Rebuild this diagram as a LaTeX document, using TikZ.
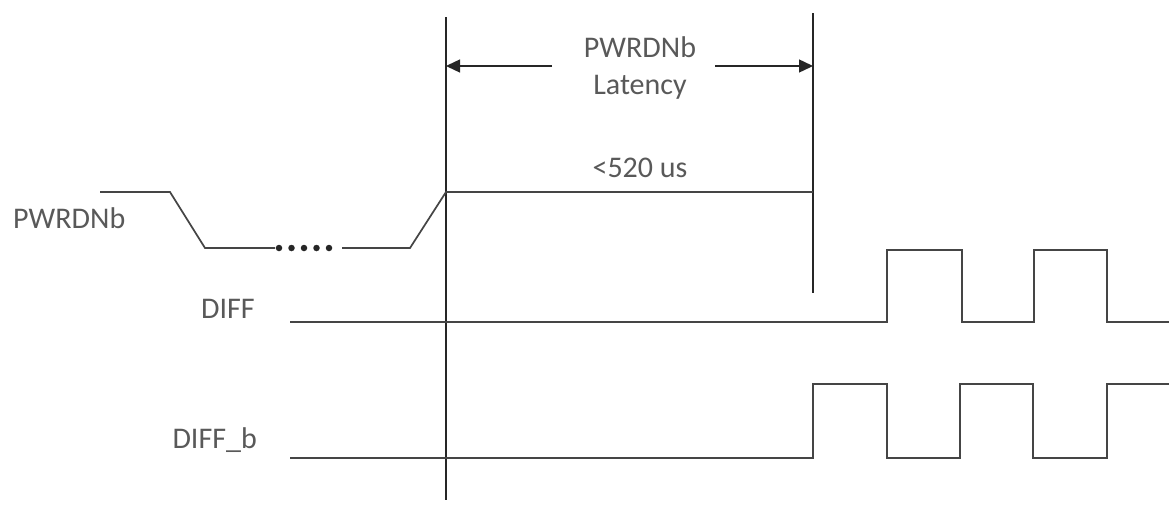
\documentclass[tikz,border=0pt]{standalone}
\usepackage{fontspec}
\setmainfont{Carlito}
\usetikzlibrary{arrows.meta}
\definecolor{txt}{HTML}{595959}
\definecolor{ln}{HTML}{454545}
\definecolor{gd}{HTML}{262626}
\begin{document}
\begin{tikzpicture}[x=1pt,y=-1pt,
  lbl/.style={text=txt,font=\fontsize{30}{37}\selectfont,inner sep=0pt},
  wave/.style={draw=ln,line width=1.7pt,line join=miter},
  guide/.style={draw=gd,line width=1.4pt},
  dim/.style={draw=gd,line width=1.4pt,-{Triangle[length=14pt,width=13pt]}},
  dot/.style={circle,fill=gd,inner sep=0pt,minimum size=6.5pt}]
\useasboundingbox (0,0) rectangle (1169,506);

% guide lines
\coordinate (g1t) at (446,17);
\coordinate (g1b) at (446,500);
\coordinate (g2t) at (813,13);
\coordinate (g2b) at (813,293);
\draw[guide] (g1t) -- (g1b);
\draw[guide] (g2t) -- (g2b);

% dimension arrows and label
\node[lbl,anchor=base] (lat1) at (640,57) {PWRDNb};
\node[lbl,anchor=base] (lat2) at (640,94) {Latency};
\coordinate (la) at (552,66);
\coordinate (ra) at (715,66);
\coordinate (g1a) at (446,66);
\coordinate (g2a) at (813,66);
\draw[dim] (la) -- (g1a);
\draw[dim] (ra) -- (g2a);

\node[lbl,anchor=base] (us) at (640,177) {<520 us};

% signal labels
\node[lbl,anchor=base west] (pwl) at (13,228) {PWRDNb};
\node[lbl,anchor=base east] (dfl) at (255,318) {DIFF};
\node[lbl,anchor=base east] (dbl) at (257,448) {DIFF\_b};

% PWRDNb waveform
\draw[wave] (100,192) -- (170,192) -- (205,248) -- (275,248);
\foreach \i/\x in {1/279,2/291.5,3/304,4/316.5,5/329}
  \node[dot] (d\i) at (\x,248) {};
\draw[wave] (342,248) -- (410,248) -- (446,192) -- (813,192);

% DIFF waveform
\draw[wave] (290,322) -- (887,322) -- (887,250) -- (962,250) -- (962,322)
  -- (1034,322) -- (1034,250) -- (1107,250) -- (1107,322) -- (1169,322);

% DIFF_b waveform
\draw[wave] (290,458) -- (813,458) -- (813,384) -- (887,384) -- (887,458)
  -- (960,458) -- (960,384) -- (1033,384) -- (1033,458) -- (1107,458)
  -- (1107,384) -- (1169,384);
\end{tikzpicture}
\end{document}
